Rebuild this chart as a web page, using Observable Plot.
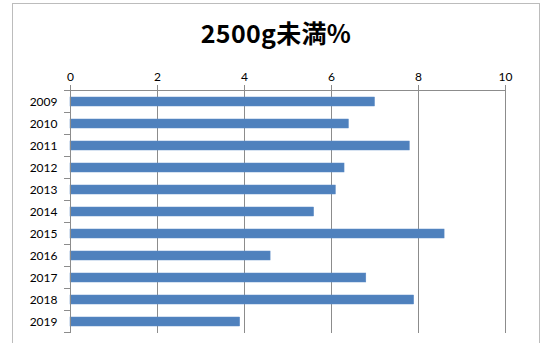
<!DOCTYPE html>
<html><head><meta charset="utf-8">
<script src="https://cdn.jsdelivr.net/npm/d3@7"></script>
<script src="https://cdn.jsdelivr.net/npm/@observablehq/plot@0.6"></script>
<style>
body{margin:0;background:#fff;}
#wrap{position:relative;width:545px;height:343px;overflow:hidden;}
#frame{position:absolute;left:12px;top:3px;width:528px;height:380px;border:1.5px solid #bcbcbc;box-sizing:border-box;}
#title{position:absolute;left:13px;width:526px;top:13px;text-align:center;font:700 25px "Noto Sans CJK JP";line-height:38px;color:#000;letter-spacing:0.3px;}
#chart{position:absolute;left:0;top:0;}
</style></head><body>
<div id="wrap"><div id="frame"></div><div id="chart"></div><div id="title">2500g未満%</div></div>
<script>
const years = ["2009","2010","2011","2012","2013","2014","2015","2016","2017","2018","2019"];
const values = [7.0, 6.4, 7.8, 6.3, 6.1, 5.6, 8.6, 4.6, 6.8, 7.9, 3.9];
const xTicks = [0, 2, 4, 6, 8, 10];
const data = years.map((y, i) => ({year: y, value: values[i]}));

const PI = 0.6, PO = 0.3;
function axisLines(index, scales, vals, dims) {
  const {x, y} = scales;
  const g = d3.create("svg:g").attr("stroke", "#8c8c8c").attr("stroke-width", 1);
  const top = dims.marginTop, bottom = dims.height - dims.marginBottom;
  const x0 = x(xTicks[0]), x1 = x(xTicks[xTicks.length - 1]);
  const step = typeof y.step === "function" ? y.step() : (bottom - top) / (years.length - PI + 2 * PO);
  const bw = typeof y.bandwidth === "function" ? y.bandwidth() : step * (1 - PI);
  g.append("line").attr("x1", x0).attr("x2", x1).attr("y1", top + 0.5).attr("y2", top + 0.5);
  g.append("line").attr("x1", x0 + 0.5).attr("x2", x0 + 0.5).attr("y1", top).attr("y2", bottom);
  const bounds = years.map(d => y(d) + bw / 2 - step / 2);
  bounds.push(y(years[years.length - 1]) + bw / 2 + step / 2);
  for (const b of bounds) {
    g.append("line").attr("x1", x0 - 6).attr("x2", x0).attr("y1", b).attr("y2", b);
  }
  return g.node();
}

const chart = Plot.plot({
  width: 545, height: 343,
  marginTop: 90, marginLeft: 70, marginRight: 40, marginBottom: 10,
  style: {fontFamily: "Lato, 'Open Sans', sans-serif", fontSize: "12px", color: "#000", background: "transparent"},
  x: {domain: [0, 10], axis: null, label: null},
  y: {domain: years, paddingInner: PI, paddingOuter: PO, axis: null, label: null},
  marks: [
    Plot.gridX(xTicks, {stroke: "#8c8c8c", strokeOpacity: 1}),
    Plot.axisX(xTicks, {anchor: "top", label: null, tickSize: 6, tickPadding: 4, stroke: "#8c8c8c", fill: "#000", fontSize: 12, tickFormat: d => String(d)}),
    Plot.barX(data, {x: "value", y: "year", fill: "#4f81bd", stroke: "#5b8ac6", strokeWidth: 0.5}),
    Plot.axisY({anchor: "left", label: null, tickSize: 0, tickPadding: 13, fill: "#000", fontSize: 12}),
    axisLines
  ]
});
document.getElementById("chart").appendChild(chart);
</script>
</body></html>
